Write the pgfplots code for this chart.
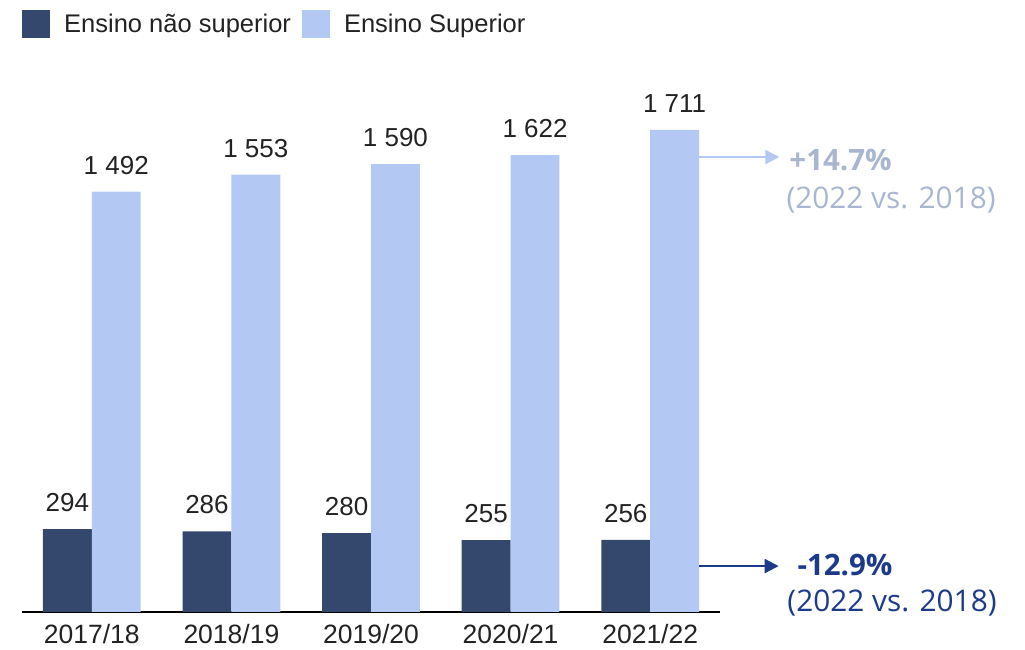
\documentclass[border=0pt]{standalone}
\usepackage{fontspec}
\setmainfont{Liberation Sans}
\newfontfamily\notefont{Open Sans}
\usepackage{xcolor}
\usepackage{pgfplots}
\pgfplotsset{compat=1.18}
\usetikzlibrary{arrows.meta}

\definecolor{barDark}{HTML}{34486E}
\definecolor{barLight}{HTML}{B4C8F4}
\definecolor{noteLight}{HTML}{A9B6D2}
\definecolor{noteDark}{HTML}{1C3A8A}
\definecolor{labelText}{HTML}{222222}

\begin{document}
\begin{tikzpicture}[x=1pt,y=1pt]
\path[use as bounding box] (0,0) rectangle (1025,650);
\begin{axis}[
	at={(22pt,38pt)}, anchor=south west,
	scale only axis,
	width=698pt, height=512pt,
	xmin=-0.5, xmax=4.5,
	ymin=0, ymax=1817.5,
	axis x line*=bottom,
	axis y line=none,
	axis line style={-,draw=black,line width=1.4pt},
	xtick={0,1,2,3,4},
	xticklabels={2017/18,2018/19,2019/20,2020/21,2021/22},
	major tick length=0pt,
	x tick label style={font=\fontsize{26.5}{30}\selectfont, text=labelText, inner sep=0pt, yshift=-12pt},
	ybar, bar width=0.35,
	clip=false,
	/pgf/number format/.cd, fixed, precision=0, 1000 sep={\ }, assume math mode=true,
	/pgfplots/.cd,
	nodes near coords,
	every node near coord/.append style={font=\fontsize{26}{30}\selectfont, text=labelText, inner sep=0pt, anchor=south, yshift=17pt},
	legend columns=2,
	legend style={at={(axis description cs:0,1.176)}, anchor=north west, draw=none, fill=none,
		font=\fontsize{25.5}{30}\selectfont, text=labelText, inner sep=0pt,
		/tikz/every odd column/.append style={column sep=12pt},
		/tikz/every even column/.append style={column sep=9pt}},
	legend cell align=left,
	legend image code/.code={\fill[#1] (0pt,-14pt) rectangle (28pt,14pt);},
]
\addplot[fill=barDark, draw=none, bar shift=-0.175] coordinates {(0,294) (1,286) (2,280) (3,255) (4,256)};
\addlegendentry{Ensino não superior}
\addplot[fill=barLight, draw=none, bar shift=0.175] coordinates {(0,1492) (1,1553) (2,1590) (3,1622) (4,1711)};
\addlegendentry{Ensino Superior}

\draw[barLight, line width=2.2pt, -{Triangle[length=14pt,width=14pt]}] (axis cs:4.35,1615) -- (axis cs:4.925,1615);
\draw[noteDark, line width=2.2pt, -{Triangle[length=14pt,width=14pt]}] (axis cs:4.35,163) -- (axis cs:4.92,163);
\node[anchor=west, inner sep=0pt, text=noteLight, font=\notefont\bfseries\fontsize{29.5}{34}\selectfont] at (axis cs:4.996,1605) {+14.7\%};
\node[anchor=west, inner sep=0pt, text=noteLight, font=\notefont\fontsize{29.8}{34}\selectfont] at (axis cs:4.975,1462) {(2022 vs. 2018)};
\node[anchor=west, inner sep=0pt, text=noteDark, font=\notefont\bfseries\fontsize{29.5}{34}\selectfont] at (axis cs:5.054,167) {-12.9\%};
\node[anchor=west, inner sep=0pt, text=noteDark, font=\notefont\fontsize{29.8}{34}\selectfont] at (axis cs:4.982,32) {(2022 vs. 2018)};
\end{axis}
\end{tikzpicture}
\end{document}
